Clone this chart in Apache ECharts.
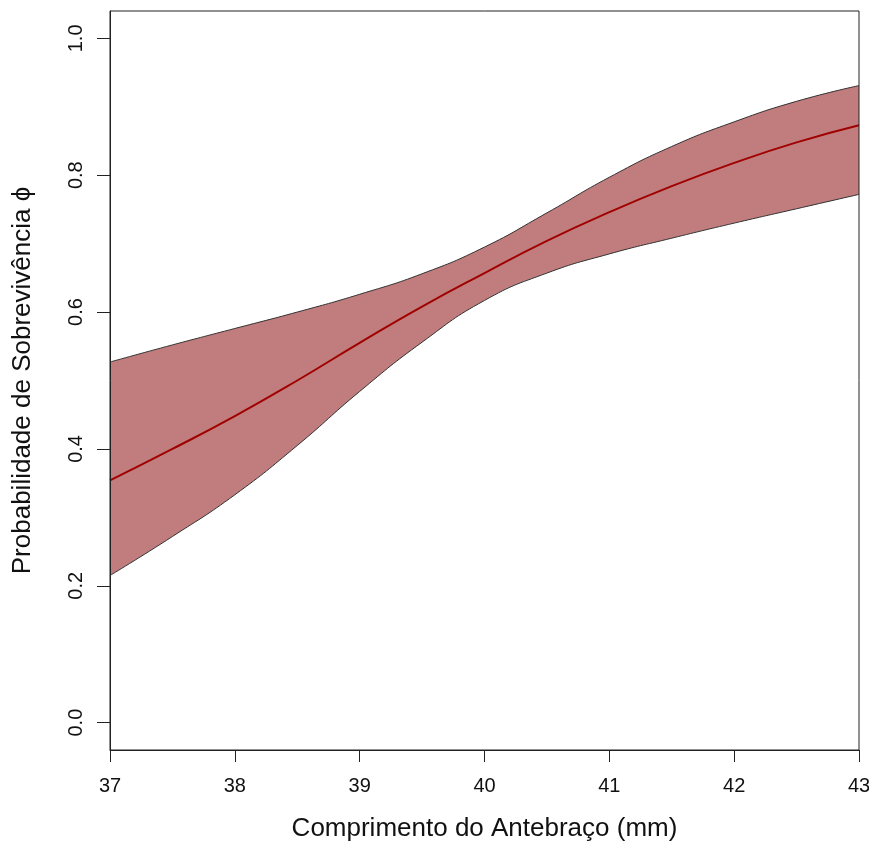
<!DOCTYPE html>
<html>
<head>
<meta charset="utf-8">
<script src="https://cdn.jsdelivr.net/npm/echarts@6/dist/echarts.min.js"></script>
<style type="text/css">
html, body {margin: 0; padding: 0; background: #fff;}
#myChart {width: 869px; height: 843px;}
</style>
</head>
<body>
<div id="myChart"></div>
<script>
// comprimento do antebraço (mm)
var forearm = [37, 37.5, 38, 38.5, 39, 39.5, 40, 40.5, 41, 41.5, 42, 42.5, 43];
// probabilidade estimada e intervalo
var phiMean  = [0.354, 0.400, 0.448, 0.500, 0.555, 0.608, 0.657, 0.704, 0.746, 0.784, 0.818, 0.848, 0.873];
var phiUpper = [0.527, 0.552, 0.576, 0.600, 0.626, 0.656, 0.695, 0.745, 0.797, 0.842, 0.878, 0.908, 0.931];
var phiLower = [0.215, 0.272, 0.333, 0.405, 0.484, 0.556, 0.617, 0.657, 0.685, 0.708, 0.730, 0.751, 0.772];
var xTicks = [37, 38, 39, 40, 41, 42, 43];
var yTicks = [0, 0.2, 0.4, 0.6, 0.8, 1.0];

function pairs(ys) {
    return forearm.map(function (x, i) { return [x, ys[i]]; });
}

var font = 'Liberation Sans, Arial, Helvetica, sans-serif';

var options = {
    animation: false,
    backgroundColor: '#fff',
    grid: {
        left: 110, right: 10, top: 11, bottom: 93,
        containLabel: false,
        outerBoundsMode: 'none',
        show: true, borderColor: '#222', borderWidth: 1,
        z: 10
    },
    xAxis: {
        type: 'value',
        z: 10,
        min: 37, max: 43, interval: 1,
        name: 'Comprimento do Antebraço (mm)',
        nameLocation: 'middle',
        nameGap: 66,
        nameTextStyle: {fontSize: 26, color: '#111', fontFamily: font},
        axisLine: {show: true, onZero: false, lineStyle: {color: '#222', width: 1}},
        axisTick: {show: true, inside: false, length: 12, lineStyle: {color: '#222'}, customValues: xTicks},
        axisLabel: {fontSize: 20, color: '#111', margin: 26, fontFamily: font, customValues: xTicks},
        splitLine: {show: false}
    },
    yAxis: {
        type: 'value',
        z: 10,
        min: -0.04, max: 1.04,
        name: 'Probabilidade de Sobrevivência \u03d5',
        nameLocation: 'middle',
        nameGap: 74,
        nameRotate: 90,
        nameTextStyle: {fontSize: 26, color: '#111', fontFamily: font},
        axisLine: {show: true, onZero: false, lineStyle: {color: '#222', width: 1}},
        axisTick: {show: true, inside: false, length: 13, lineStyle: {color: '#222'}, customValues: yTicks},
        axisLabel: {
            fontSize: 20, color: '#111', margin: 24, rotate: 90, fontFamily: font,
            customValues: yTicks,
            formatter: function (v) { return v.toFixed(1); }
        },
        splitLine: {show: false}
    },
    series: [
        {
            name: 'upper',
            type: 'line',
            smooth: 0.5,
            symbol: 'none',
            lineStyle: {color: '#333', width: 1},
            areaStyle: {color: '#C17D7D', opacity: 1, origin: -0.04},
            data: pairs(phiUpper),
            z: 1
        },
        {
            name: 'lower',
            type: 'line',
            smooth: 0.5,
            symbol: 'none',
            lineStyle: {color: '#333', width: 1},
            areaStyle: {color: '#fff', opacity: 1, origin: -0.04},
            data: pairs(phiLower),
            z: 2
        },
        {
            name: 'phi',
            type: 'line',
            smooth: 0.5,
            symbol: 'none',
            lineStyle: {color: '#A00000', width: 2},
            data: pairs(phiMean),
            z: 3
        }
    ]
};

var myChart = echarts.init(document.getElementById('myChart'), null, {renderer: 'canvas'});
myChart.setOption(options);
</script>
</body>
</html>
